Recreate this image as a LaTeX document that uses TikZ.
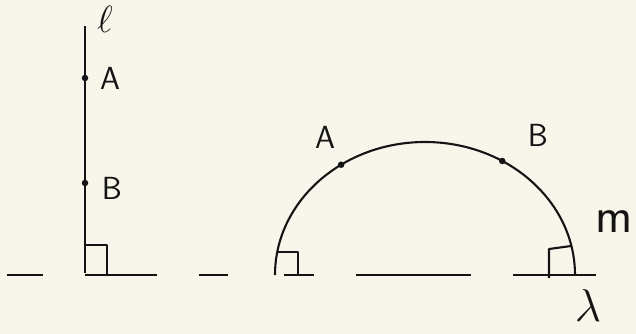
\RequirePackage{fix-cm}
\documentclass[tikz,border=0pt]{standalone}
\usepackage{fontspec}
\usetikzlibrary{calc}
\definecolor{Paper}{HTML}{F8F6EA}
\definecolor{Pencil}{HTML}{141414}
\tikzset{
 pen/.style={draw=Pencil,line width=2.4pt},
 curve/.style={pen,line width=2.1pt},
 corner/.style={pen,line width=2.1pt,line join=round},
 dot/.style={circle,fill=Pencil,inner sep=0pt,minimum size=6.5pt},
 lab/.style={text=Pencil,font=\sffamily\fontsize{32}{34}\selectfont,inner sep=0pt}
}
\begin{document}
\begin{tikzpicture}[x=1pt,y=-1pt]
\fill[Paper] (0,0) rectangle (636,334);
% the line l with its two points
\coordinate (top) at (85,26);
\coordinate (foot) at (85,273);
\draw[pen] (top)--(foot);
\node[dot] (A1) at (85,78) {};
\node[dot] (B1) at (85,183) {};
\node[lab,font=\fontsize{38}{40}\selectfont] (l1) at (105,19) {$\ell$};
\node[lab] (labA1) at (110,78) {A};
\node[lab] (labB1) at (112,188) {B};
\draw[corner] (85,245)--(107,245)--(107,275);
% the broken line
\foreach \a/\b in {7/43,85/157,199/228,284/314,356/471,513/596}
  \draw[pen] (\a,275)--(\b,275);
% the half circle m
\coordinate (C) at (425,275);
\draw[curve] (275,275) arc[start angle=180,end angle=0,x radius=150pt,y radius=133pt];
\node[dot] (A2) at ($(C)+(124:150pt and 133pt)$) {};
\node[dot] (B2) at ($(C)+(59:150pt and 133pt)$) {};
\node[lab] (labA2) at (325,137) {A};
\node[lab] (labB2) at (538,135) {B};
\node[lab,font=\sffamily\fontsize{50}{52}\selectfont] (m) at (614,222) {m};
\node[lab,font=\fontsize{46}{48}\selectfont] (lam) at (588,306) {$\lambda$};
\draw[corner] (277,252)--(298,252)--(298,275);
\draw[corner] (571,246)--(549,249)--(549,278);
\end{tikzpicture}
\end{document}
